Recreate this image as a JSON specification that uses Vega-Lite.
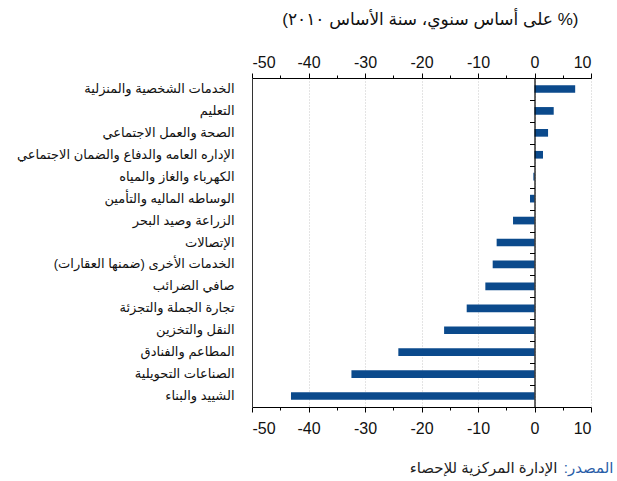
{
  "$schema": "https://vega.github.io/schema/vega-lite/v6.json",
  "autosize": {"type": "none"},
  "padding": {"left": 252, "top": 78, "right": 26, "bottom": 74},
  "width": 339,
  "height": 329,
  "background": "white",
  "config": {
    "view": {"stroke": null},
    "font": "Liberation Sans, DejaVu Sans",
    "axis": {"labelFont": "Liberation Sans, DejaVu Sans", "titleFont": "Liberation Sans, DejaVu Sans", "titleFontWeight": "normal"}
  },
  "data": {
    "values": [
      {"sector": "الخدمات الشخصية والمنزلية", "value": 7.2},
      {"sector": "التعليم", "value": 3.4},
      {"sector": "الصحة والعمل الاجتماعي", "value": 2.4},
      {"sector": "الإداره العامه والدفاع والضمان الاجتماعي", "value": 1.5},
      {"sector": "الكهرباء والغاز والمياه", "value": -0.2},
      {"sector": "الوساطه الماليه والتأمين", "value": -0.8},
      {"sector": "الزراعة وصيد البحر", "value": -3.8},
      {"sector": "الإتصالات", "value": -6.7},
      {"sector": "الخدمات الأخرى (ضمنها العقارات)", "value": -7.4},
      {"sector": "صافي الضرائب", "value": -8.7},
      {"sector": "تجارة الجملة والتجزئة", "value": -12.0},
      {"sector": "النقل والتخزين", "value": -16.0},
      {"sector": "المطاعم والفنادق", "value": -24.1},
      {"sector": "الصناعات التحويلية", "value": -32.4},
      {"sector": "الشييد والبناء", "value": -43.1}
    ]
  },
  "resolve": {"axis": {"x": "independent", "y": "independent"}},
  "layer": [
    {
      "mark": {"type": "bar", "color": "#0b4a8c", "height": {"band": 0.35}},
      "encoding": {
        "y": {
          "field": "sector", "type": "nominal", "sort": null,
          "scale": {"paddingInner": 0, "paddingOuter": 0},
          "axis": {
            "orient": "left", "title": null, "ticks": false, "domain": true, "domainColor": "#333333",
            "labelFontSize": 13, "labelPadding": 18, "labelColor": "#111111", "labelLimit": 300,
            "labelExpr": "'\u200f' + datum.label + '\u200f'"
          }
        },
        "x": {
          "field": "value", "type": "quantitative",
          "scale": {"domain": [-50, 10], "nice": false, "zero": false},
          "axis": {
            "orient": "top", "title": null, "values": [-50, -40, -30, -20, -10, 0, 10],
            "grid": true, "gridColor": "#c8c8c8", "gridDash": [1, 2],
            "domain": true, "domainColor": "#000000", "ticks": true, "tickColor": "#000000", "tickSize": 5,
            "labelFontSize": 16, "labelPadding": 3, "labelColor": "#111111",
            "labelExpr": "toString(datum.value)"
          }
        }
      }
    },
    {
      "mark": {"type": "bar", "opacity": 0},
      "encoding": {
        "y": {
          "field": "sector", "type": "nominal", "sort": null,
          "axis": {
            "orient": "left", "offset": -282.5, "title": null, "labels": false,
            "ticks": true, "tickBand": "extent", "tickSize": 5, "tickColor": "#000000",
            "domain": true, "domainColor": "#000000", "domainWidth": 1.2, "grid": false, "zindex": 1
          }
        },
        "x": {
          "field": "value", "type": "quantitative",
          "axis": {
            "orient": "bottom", "values": [-50, -40, -30, -20, -10, 0, 10], "grid": false,
            "domain": true, "domainColor": "#000000", "ticks": true, "tickColor": "#000000", "tickSize": 5,
            "labelFontSize": 16, "labelPadding": 8, "labelColor": "#111111",
            "labelExpr": "toString(datum.value)",
            "title": "الإدارة المركزية للإحصاء", "titleFontSize": 15, "titleColor": "#222222",
            "titleX": 305, "titleY": 60, "titleAlign": "right", "titleBaseline": "middle", "titleAngle": 0
          }
        }
      }
    },
    {
      "mark": {"type": "bar", "opacity": 0},
      "encoding": {
        "y": {"field": "sector", "type": "nominal", "sort": null, "axis": null},
        "x": {
          "field": "value", "type": "quantitative",
          "axis": {
            "orient": "top", "values": [-45, -35, -25, -15, -5, 5], "grid": false,
            "domain": false, "labels": false, "ticks": true, "tickColor": "#000000", "tickSize": 3,
            "title": "\u200f(% على أساس سنوي، سنة الأساس ٢٠١٠)\u200f", "titleFontSize": 17, "titleColor": "#111111",
            "titleX": 326, "titleY": -59, "titleAlign": "right", "titleBaseline": "middle", "titleAngle": 0
          }
        }
      }
    },
    {
      "mark": {"type": "bar", "opacity": 0},
      "encoding": {
        "y": {"field": "sector", "type": "nominal", "sort": null, "axis": null},
        "x": {
          "field": "value", "type": "quantitative",
          "axis": {
            "orient": "bottom", "values": [-45, -35, -25, -15, -5, 5], "grid": false,
            "domain": false, "labels": false, "ticks": true, "tickColor": "#000000", "tickSize": 3,
            "title": "المصدر:\u200f", "titleFontSize": 15, "titleColor": "#2a5ea8",
            "titleX": 361, "titleY": 60, "titleAlign": "right", "titleBaseline": "middle", "titleAngle": 0
          }
        }
      }
    }
  ]
}
